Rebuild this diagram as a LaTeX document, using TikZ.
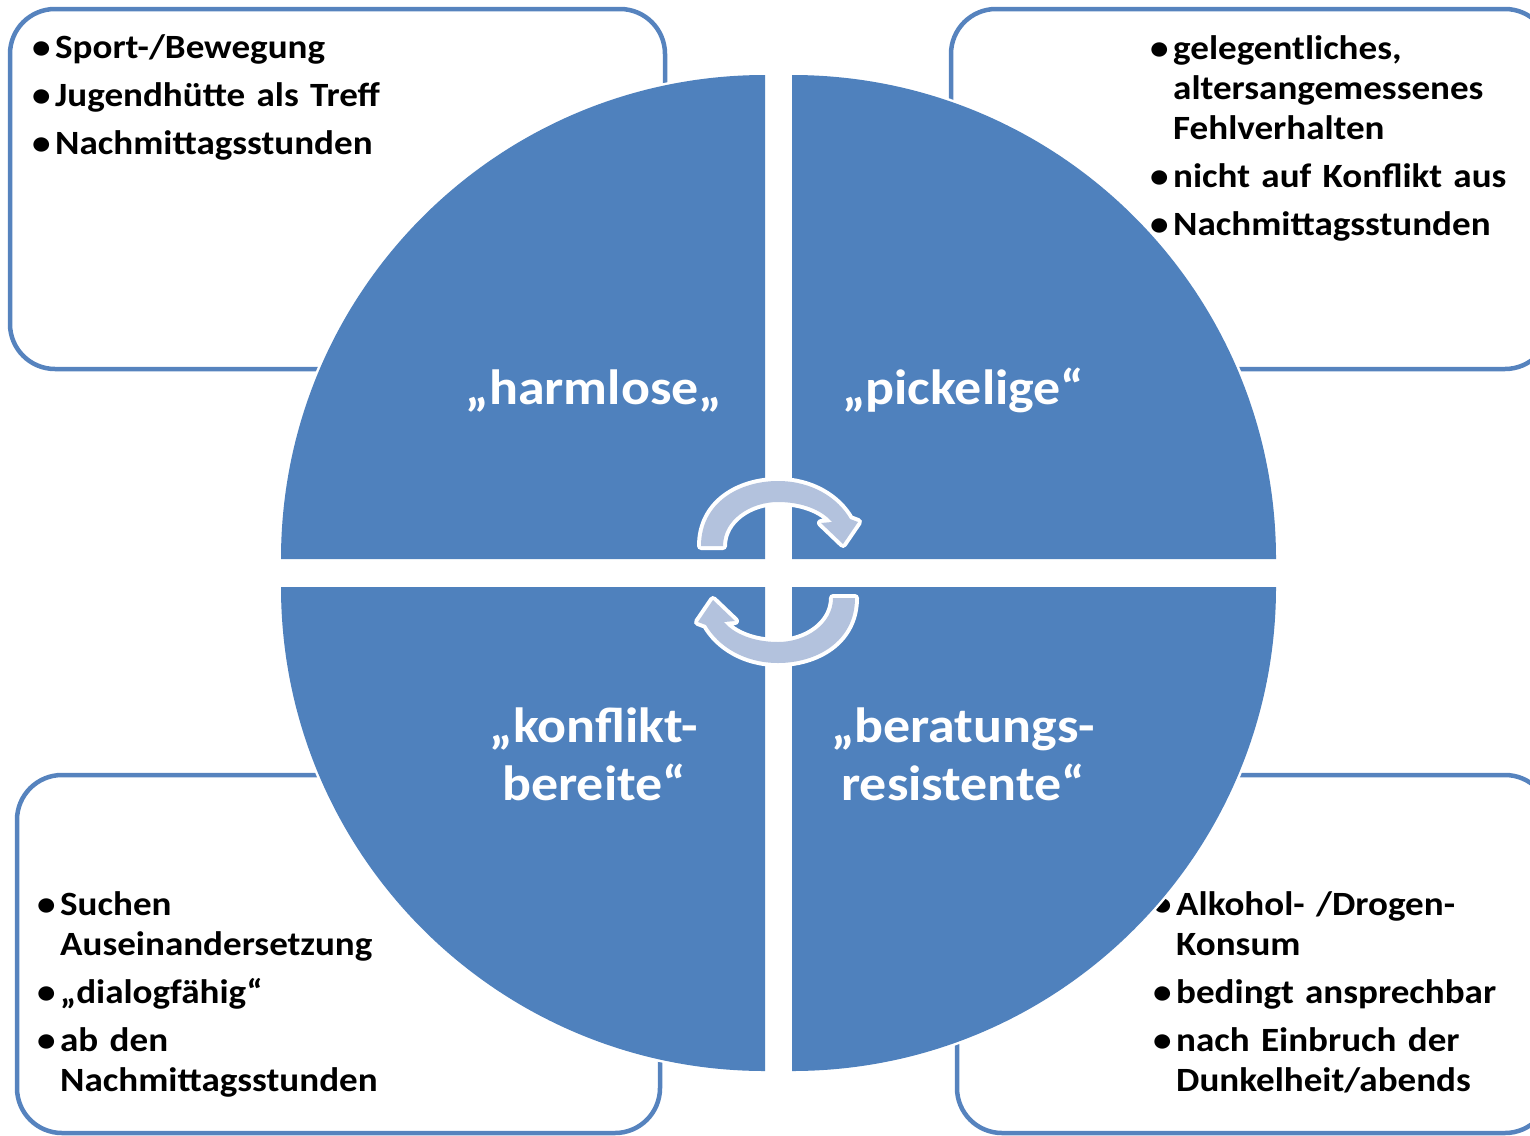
\documentclass[tikz,border=0pt]{standalone}
\usepackage{fontspec}
\setmainfont{Carlito}[FakeStretch=1.09, WordSpace=0.8]
\definecolor{quadblue}{HTML}{4F81BD}
\definecolor{arrowfill}{HTML}{B3C2DD}
\definecolor{boxline}{HTML}{5683BE}
\newcommand{\bulitem}[2][22pt]{\hangindent=#1\hangafter=1\noindent\makebox[#1][l]{\hspace{-1pt}{\fontsize{34}{34}\selectfont\textbullet}}#2\par}
\newcommand{\itemgap}{\vspace{8pt}}
\tikzset{
  infobox/.style={draw=boxline, line width=4.5pt, rounded corners=45pt, inner sep=0pt},
  listtext/.style={anchor=base west, inner sep=0pt, text width=#1, align=left,
    font=\bfseries\fontsize{34}{40}\selectfont},
  quadrant/.style={fill=quadblue, preaction={draw=white, line width=5pt, line join=round}},
  centerlabel/.style={anchor=base, inner sep=0pt, text width=340pt, align=center,
    text=white, font=\bfseries\fontsize{49.5}{58}\selectfont},
  cyclearrow/.pic={
    \path[fill=arrowfill, preaction={draw=white, line width=8pt, line join=round}]
      (-77,-26) .. controls (-77,-70) and (-38,-91) .. (0,-91)
      .. controls (34,-91) and (60,-74) .. (72,-53)
      -- (80,-50) -- (65,-28) -- (43,-49) -- (54,-50)
      .. controls (44,-62) and (24,-70) .. (0,-70)
      .. controls (-28,-70) and (-55,-52) .. (-55,-26) -- cycle;
  }
}
\begin{document}
\begin{tikzpicture}[x=1pt,y=-1pt]
\useasboundingbox (0,0) rectangle (1530,1135);
\clip (0,0) rectangle (1530,1135);
% frames
\node[infobox, minimum width=655pt, minimum height=360pt] (boxTL) at (337.5,189) {};
\node[infobox, minimum width=599pt, minimum height=360pt] (boxTR) at (1250.5,189) {};
\node[infobox, minimum width=643pt, minimum height=358pt] (boxBL) at (338.5,954) {};
\node[infobox, minimum width=593pt, minimum height=358pt] (boxBR) at (1253.5,954) {};
% lists
\node[listtext=600pt] (listTL) at (33,58)
  {\bulitem{Sport-/Bewegung}\itemgap\bulitem{Jugendhütte als Treff}\itemgap\bulitem{Nachmittagsstunden}};
\node[listtext=400pt] (listTR) at (1151,59)
  {\bulitem{gelegentliches,\newline altersangemessenes\newline Fehlverhalten}\itemgap\bulitem{nicht auf Konflikt aus}\itemgap\bulitem{Nachmittagsstunden}};
\node[listtext=600pt] (listBL) at (38,915)
  {\bulitem{Suchen\newline Auseinandersetzung}\itemgap\bulitem{„dialogfähig“}\itemgap\bulitem{ab den\newline Nachmittagsstunden}};
\node[listtext=400pt] (listBR) at (1154,915)
  {\bulitem{Alkohol- /Drogen-\newline Konsum}\itemgap\bulitem{bedingt ansprechbar}\itemgap\bulitem{nach Einbruch der\newline Dunkelheit/abends}};
% quadrants
\path[quadrant] (765,559) -- (281,559) arc[start angle=180, end angle=270, radius=484] -- cycle;
\path[quadrant] (792,559) -- (792,75) arc[start angle=270, end angle=360, radius=484] -- cycle;
\path[quadrant] (792,587) -- (1276,587) arc[start angle=0, end angle=90, radius=484] -- cycle;
\path[quadrant] (765,587) -- (765,1071) arc[start angle=90, end angle=180, radius=484] -- cycle;
% labels
\node[centerlabel] (lblTL) at (594,404) {„harmlose„};
\node[centerlabel] (lblTR) at (963,404) {„pickelige“};
\node[centerlabel] (lblBL) at (594,742) {„konflikt-\\bereite“};
\node[centerlabel] (lblBR) at (963,742) {„beratungs-\\resistente“};
% cycle arrows
\pic at (778,572) {cyclearrow};
\pic[rotate=180] at (778,572) {cyclearrow};
\end{tikzpicture}
\end{document}
